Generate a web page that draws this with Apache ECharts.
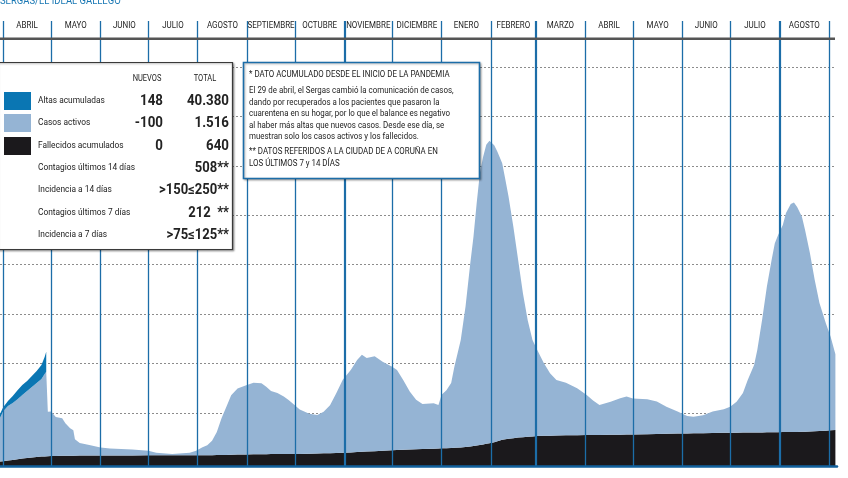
<!DOCTYPE html>
<html><head><meta charset="utf-8">
<script src="https://cdn.jsdelivr.net/npm/echarts@6/dist/echarts.min.js"></script>
<style>html,body{margin:0;padding:0;background:#fff}#c{width:848px;height:478px}</style>
</head><body><div id="c"></div>
<script>
// ---- DATA ----
const dates = ['2020-03-30','2020-04-01','2020-04-04','2020-04-07','2020-04-10','2020-04-13','2020-04-16','2020-04-19','2020-04-22','2020-04-25','2020-04-27','2020-04-28','2020-04-29',
'2020-05-01','2020-05-04','2020-05-08','2020-05-10','2020-05-13','2020-05-15','2020-05-16','2020-05-19','2020-05-25','2020-06-01','2020-06-07','2020-06-21',
'2020-07-01','2020-07-06','2020-07-16','2020-07-27','2020-07-31','2020-08-04','2020-08-07','2020-08-10','2020-08-13','2020-08-16','2020-08-19','2020-08-22','2020-08-26','2020-08-31',
'2020-09-05','2020-09-10','2020-09-13','2020-09-16','2020-09-20','2020-09-24','2020-09-27','2020-09-30','2020-10-04','2020-10-10','2020-10-15','2020-10-19','2020-10-23','2020-10-27','2020-10-31',
'2020-11-05','2020-11-09','2020-11-12','2020-11-15','2020-11-20','2020-11-25','2020-12-01','2020-12-04','2020-12-08','2020-12-12','2020-12-16','2020-12-20','2020-12-27','2020-12-30',
'2021-01-01','2021-01-04','2021-01-07','2021-01-09','2021-01-13','2021-01-16','2021-01-19','2021-01-21','2021-01-23','2021-01-25','2021-01-27','2021-01-29','2021-01-31',
'2021-02-03','2021-02-05','2021-02-08','2021-02-10','2021-02-12','2021-02-15','2021-02-18','2021-02-21','2021-02-24','2021-02-27',
'2021-03-02','2021-03-06','2021-03-10','2021-03-14','2021-03-20','2021-03-27','2021-04-02','2021-04-06','2021-04-10','2021-04-17','2021-04-23','2021-04-27',
'2021-05-01','2021-05-10','2021-05-16','2021-05-22','2021-05-29','2021-06-04','2021-06-08','2021-06-14','2021-06-20','2021-06-27',
'2021-07-01','2021-07-05','2021-07-09','2021-07-12','2021-07-16','2021-07-18','2021-07-21','2021-07-24','2021-07-27','2021-07-29','2021-07-31',
'2021-08-03','2021-08-05','2021-08-08','2021-08-10','2021-08-12','2021-08-15','2021-08-17','2021-08-20','2021-08-23','2021-08-26','2021-08-30','2021-09-02','2021-09-05'];

const activos = [870,1000,1090,1140,1200,1270,1340,1410,1480,1550,1650,1690,890,
890,780,750,650,550,510,330,250,210,160,140,120,
90,50,25,50,90,160,200,290,460,740,965,1190,1320,1380,
1430,1420,1350,1260,1220,1150,1080,1000,890,800,770,830,960,1200,1460,
1650,1840,1940,1870,1900,1780,1670,1600,1390,1160,990,900,910,870,
1070,1160,1300,1620,2150,2810,3670,4190,4850,5440,5750,5980,6050,
5940,5790,5530,5190,4840,4230,3550,2880,2330,1930,
1720,1460,1250,1110,1050,940,800,690,600,660,730,760,
720,700,650,540,440,350,330,360,430,470,
520,620,790,1050,1350,1650,2250,2910,3450,3780,3940,
4140,4380,4560,4590,4500,4300,4030,3570,3030,2560,2150,1870,1516];

const fallecidos = [90,95,110,120,135,150,160,170,180,188,192,195,196,
200,202,204,205,206,207,207,208,209,210,211,212,
213,213,214,215,216,216,217,217,218,218,221,224,228,232,
234,236,237,238,238,239,240,240,240,245,250,254,257,261,264,
271,278,283,289,297,306,317,321,326,330,335,339,347,351,
353,356,360,364,372,380,390,399,408,420,432,443,455,
476,497,525,534,543,557,569,577,585,592,
600,603,606,609,614,616,618,619,620,624,627,630,
632,637,640,644,648,651,654,657,660,664,
666,667,668,669,670,671,672,673,675,676,677,
678,679,680,681,682,684,686,690,695,700,707,714,720];

// altas acumuladas: only shown until 28 April 2020
const altas = [80,80,100,140,180,200,200,220,240,280,340,400];

const monthStarts = ['2020-04-01','2020-05-01','2020-06-01','2020-07-01','2020-08-01','2020-09-01','2020-10-01','2020-11-01','2020-12-01',
'2021-01-01','2021-02-01','2021-03-01','2021-04-01','2021-05-01','2021-06-01','2021-07-01','2021-08-01','2021-09-01'];
const monthNames = ['ABRIL','MAYO','JUNIO','JULIO','AGOSTO','SEPTIEMBRE','OCTUBRE','NOVIEMBRE','DICIEMBRE',
'ENERO','FEBRERO','MARZO','ABRIL','MAYO','JUNIO','JULIO','AGOSTO'];
const thickMonths = ['2020-11-01','2021-03-01','2021-08-01'];

const legendNames = ['Altas acumuladas','Casos activos','Fallecidos acumulados'];
const legendNew = ['148','-100','0'];
const legendTotal = ['40.380','1.516','640'];
const statNames = ['Contagios últimos 14 días','Incidencia a 14 días','Contagios últimos 7 días','Incidencia a 7 días'];
const statValues = ['508**','>150≤250**','212  **','>75≤125**'];

const noteLines = ['* DATO ACUMULADO DESDE EL INICIO DE LA PANDEMIA',
'El 29 de abril, el Sergas cambió la comunicación de casos,',
'dando por recuperados a los pacientes que pasaron la',
'cuarentena en su hogar, por lo que el balance es negativo',
'al haber más altas que nuevos casos. Desde ese día, se',
'muestran solo los casos activos y los fallecidos.',
'** DATOS REFERIDOS A LA CIUDAD DE A CORUÑA EN',
'LOS ÚLTIMOS 7 y 14 DÍAS'];
const source = 'SERGAS/EL IDEAL GALLEGO';

// ---- CHART ----
function ts(s){const p=s.split('-');return new Date(+p[0],+p[1]-1,+p[2]).getTime();}
const C_ALTAS='#0a76b3', C_ACT='#95b4d4', C_FALL='#1b191c', C_LINE='#1c6da8';
const FONT='Roboto, "Noto Sans", sans-serif';

const chart = echarts.init(document.getElementById('c'), null, {renderer:'canvas'});

const option = {
  animation:false,
  backgroundColor:'#fff',
  grid:[
    {left:0, right:11, top:21, bottom:12},
    {left:0, right:13, top:67, bottom:65}
  ],
  xAxis:[
    {type:'time', gridIndex:0, min:ts('2020-03-30'), max:ts('2021-09-06'), z:5,
     axisLine:{show:true, lineStyle:{color:'#12609c', width:2.5}}, axisTick:{show:false}, axisLabel:{show:false}, splitLine:{show:false}},
    {type:'value', gridIndex:1, show:false, min:0, max:1}
  ],
  yAxis:[
    {type:'value', gridIndex:0, min:0, max:8900, show:false},
    {type:'value', gridIndex:1, min:0, max:7, interval:1,
     axisLine:{show:false}, axisTick:{show:false}, axisLabel:{show:false},
     splitLine:{show:true, lineStyle:{color:'#8c8c8c', width:1, type:[2,2]}}}
  ],
  series:[
    {name:'Fallecidos acumulados', type:'line', stack:'t', xAxisIndex:0, yAxisIndex:0, showSymbol:false, symbol:'none',
     lineStyle:{width:0}, areaStyle:{color:C_FALL, opacity:1}, z:2,
     data: dates.map((d,i)=>[ts(d), fallecidos[i]])},
    {name:'Casos activos', type:'line', stack:'t', xAxisIndex:0, yAxisIndex:0, showSymbol:false, symbol:'none',
     lineStyle:{width:0}, areaStyle:{color:C_ACT, opacity:1}, z:2,
     data: dates.map((d,i)=>[ts(d), activos[i]])},
    {name:'Altas acumuladas', type:'line', stack:'t', xAxisIndex:0, yAxisIndex:0, showSymbol:false, symbol:'none',
     lineStyle:{width:0}, areaStyle:{color:C_ALTAS, opacity:1}, z:2,
     data: dates.map((d,i)=>[ts(d), i<altas.length ? altas[i] : null])},
    {name:'meses', type:'line', xAxisIndex:0, yAxisIndex:0, data:[], z:6, silent:true,
     markLine:{silent:true, symbol:['none','none'], animation:false, label:{show:false},
       lineStyle:{color:C_LINE, width:1.3, type:'solid'},
       data: monthStarts.map(s=>({xAxis:ts(s), lineStyle:{color:C_LINE, type:'solid', width: thickMonths.includes(s)?2.2:1.3}}))}}
  ]
};
chart.setOption(option);

function T(x,y,text,o){o=o||{};
  return {type:'text', x:x, y:y, scaleX:(o.sx==null?0.88:o.sx), silent:true, z:o.z||80,
    style:{text:text, fill:o.color||'#222', font:(o.weight||'normal')+' '+(o.size||9.5)+'px '+FONT,
      textAlign:o.align||'left', align:o.align||'left', textVerticalAlign:'middle', verticalAlign:'middle'}};
}
const g = [];
// source
g.push(T(0,1,source,{size:11, color:'#1a78b4', sx:0.86}));
// header bar
g.push({type:'rect', shape:{x:0,y:37.5,width:835,height:2.6}, style:{fill:'#555'}, z:60, silent:true});
// month labels positioned by the time axis
const px = monthStarts.map(s=>chart.convertToPixel({xAxisIndex:0}, ts(s)));
monthNames.forEach((n,i)=>g.push(T((px[i]+px[i+1])/2, 26, n, {align:'center', sx:0.84, size:9.5, color:'#1e1e1e', z:65})));
// legend box
g.push({type:'rect', shape:{x:-3,y:62.5,width:235.5,height:187}, style:{fill:'#fff', stroke:'#3a3a3a', lineWidth:1.2, shadowBlur:2, shadowOffsetX:1, shadowOffsetY:1, shadowColor:'rgba(0,0,0,0.35)'}, z:70, silent:true});
g.push(T(147,79,'NUEVOS',{align:'center', size:8.5}));
g.push(T(205,79,'TOTAL',{align:'center', size:8.5}));
const swc=[C_ALTAS,C_ACT,C_FALL], rowY=[101,123,146];
legendNames.forEach((n,i)=>{
  g.push({type:'rect', shape:{x:4,y:rowY[i]-9,width:27,height:18}, style:{fill:swc[i]}, z:75, silent:true});
  g.push(T(38,rowY[i],n,{}));
  g.push(T(163,rowY[i],legendNew[i],{align:'right', weight:'bold', size:14, sx:0.95}));
  g.push(T(229,rowY[i],legendTotal[i],{align:'right', weight:'bold', size:14, sx:0.95}));
});
const statY=[168,190,213,235];
statNames.forEach((n,i)=>{
  g.push(T(38,statY[i],n,{}));
  g.push(T(229,statY[i],statValues[i],{align:'right', weight:'bold', size:14, sx:0.93}));
});
// notes box
g.push({type:'rect', shape:{x:243.5,y:62.5,width:236,height:116}, style:{fill:'#fff', stroke:C_LINE, lineWidth:1.6, shadowBlur:2, shadowOffsetX:1, shadowOffsetY:1, shadowColor:'rgba(0,0,0,0.3)'}, z:70, silent:true});
const noteY=[75,91,102.5,114,125.5,137,152,163.5];
noteLines.forEach((l,i)=>g.push(T(249,noteY[i],l,{size:9, sx:0.88})));

chart.setOption({graphic:{elements:g}});
</script></body></html>
